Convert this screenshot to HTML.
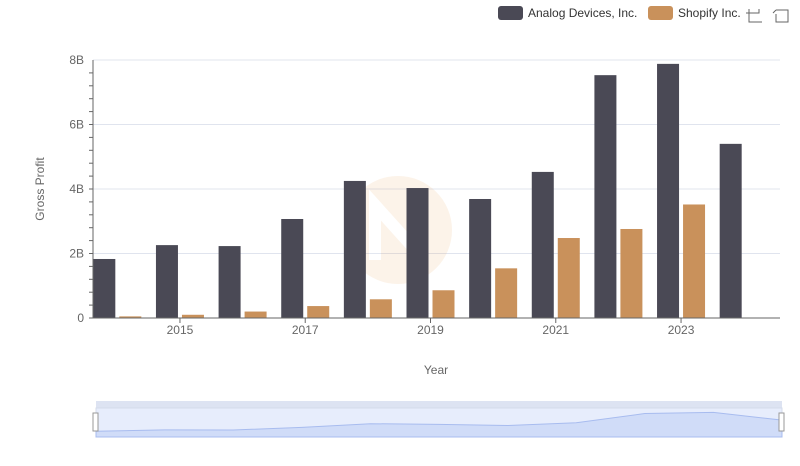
<!DOCTYPE html>
<html><head><meta charset="utf-8">
<style>
body{margin:0;background:#fff;font-family:"Liberation Sans",sans-serif;}
svg text{font-family:"Liberation Sans",sans-serif;}
</style></head>
<body>
<svg id="chart" width="800" height="461" viewBox="0 0 800 461" xmlns="http://www.w3.org/2000/svg">
<g id="grid"></g>
<g id="watermark" opacity="0.12">
<circle cx="398" cy="230" r="54" fill="#e8a050"/>
<path d="M375 260 L375 205 L420 255 L420 200" stroke="#fff" stroke-width="12" fill="none"/>
</g>
<g id="bars"></g>
<g id="axes"></g>
<text x="44" y="189" transform="rotate(-90 44 189)" text-anchor="middle" font-size="12" fill="#666">Gross Profit</text>
<text x="436" y="374" text-anchor="middle" font-size="12" fill="#666">Year</text>
<g>
<g>
<rect x="498" y="6" width="25" height="14" rx="3" fill="#4a4955"/>
<text x="528" y="17" font-size="12" fill="#333">Analog Devices, Inc.</text></g>
<g>
<rect x="648" y="6" width="25" height="14" rx="3" fill="#c9915b"/>
<text x="678" y="17" font-size="12" fill="#333">Shopify Inc.</text></g>
</g>
<g stroke="#666" fill="none" stroke-width="1">
<path d="M749 9 V22 H762 M746 13 H759 V9"/></g>
<g stroke="#666" fill="none" stroke-width="1">
<path d="M776 10 H788 V22 H776 V14 M776 10 L773 13"/></g>
<g>
<rect x="96" y="401" width="686" height="7" fill="#dde3f2"/>
<rect x="96" y="408" width="686" height="29" fill="#e7edfc" stroke="#d4dbea"/>
<path id="sliderArea" fill="#d0dcf8" stroke="#a8bcef"/>
<rect x="93" y="413" width="5" height="18" fill="#fff" stroke="#999"/>
<rect x="779" y="413" width="5" height="18" fill="#fff" stroke="#999"/>
</g>
</svg>
<script>
const years=[2014,2015,2016,2017,2018,2019,2020,2021,2022,2023,2024];
const adi=[1.83,2.26,2.23,3.07,4.25,4.03,3.69,4.53,7.53,7.88,5.40];
const shop=[0.05,0.10,0.20,0.37,0.58,0.86,1.54,2.48,2.76,3.52,null];
const yTicks=[0,2,4,6,8];
const yLabels=["0","2B","4B","6B","8B"];
const xLabelYears=[2015,2017,2019,2021,2023];
const NS="http://www.w3.org/2000/svg";
const x0=93,x1=780,y0=318,y1=60,maxV=8;
const band=(x1-x0+2)/years.length;
const xc=i=>x0-7+band*(i+0.5)+0;
const y=v=>y0-(v/maxV)*(y0-y1);
function mk(tag,attrs,parent){const e=document.createElementNS(NS,tag);for(const k in attrs)e.setAttribute(k,attrs[k]);parent.appendChild(e);return e;}
const grid=document.getElementById('grid'),bars=document.getElementById('bars'),axes=document.getElementById('axes');
yTicks.forEach((t,i)=>{
 if(t>0){const l=mk('line',{x1:x0,x2:x1,y1:y(t),y2:y(t),stroke:'#e0e4ee'},grid);
 
 }
 const tx=mk('text',{x:84,y:y(t)+4,'text-anchor':'end','font-size':12,fill:'#666'},axes);
 tx.textContent=yLabels[i];
 
 
});
for(let v=0;v<=maxV;v+=0.4){const l=mk('line',{x1:89,x2:93,y1:y(v),y2:y(v),stroke:'#666'},axes);
 
 }
const ya=mk('line',{x1:x0,x2:x0,y1:y1,y2:y0,stroke:'#666'},axes);


const xa=mk('line',{x1:x0,x2:x1,y1:y0,y2:y0,stroke:'#666'},axes);


years.forEach((yr,i)=>{
 const c=xc(i);
 const b1=mk('rect',{x:c-24,y:y(adi[i]),width:22,height:y0-y(adi[i]),fill:'#4a4955'},bars);
 
 
 if(shop[i]!=null){const b2=mk('rect',{x:c+2,y:y(shop[i]),width:22,height:y0-y(shop[i]),fill:'#c9915b'},bars);
 
 }
 if(xLabelYears.includes(yr)){
  const tk=mk('line',{x1:c,x2:c,y1:y0,y2:y0+5,stroke:'#666'},axes);
  
  
  const t=mk('text',{x:c,y:y0+16,'text-anchor':'middle','font-size':12,fill:'#666'},axes);
  t.textContent=yr;
  
  
 }
});
// slider preview
const sx0=96,sx1=782,sTop=412,sBot=437;
let d='M'+sx0+' '+sBot;
years.forEach((yr,i)=>{const px=sx0+(sx1-sx0)*i/(years.length-1);const py=sBot-(adi[i]/maxV)*(sBot-sTop);d+=' L'+px.toFixed(1)+' '+py.toFixed(1);});
d+=' L'+sx1+' '+sBot+' Z';
document.getElementById('sliderArea').setAttribute('d',d);
</script>
</body></html>
